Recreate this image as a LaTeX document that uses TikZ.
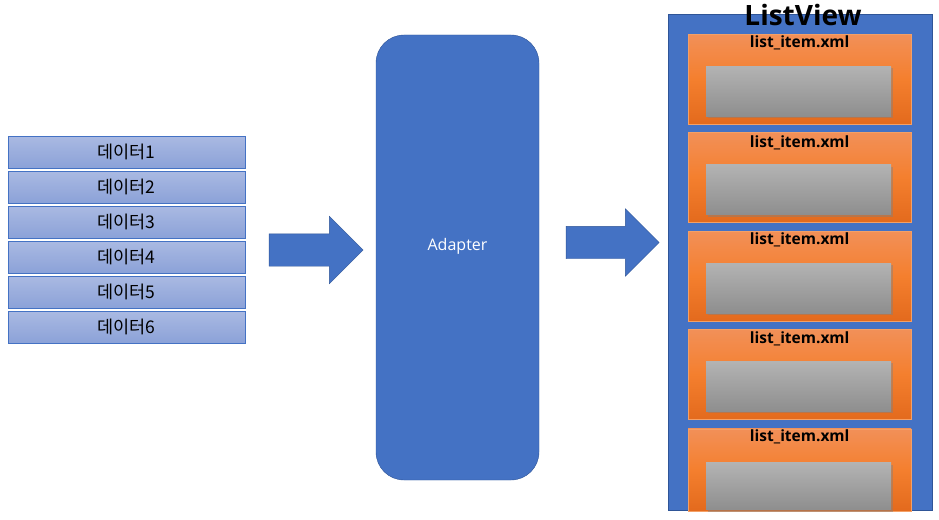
\documentclass[tikz,border=0pt]{standalone}
\usepackage{fontspec}
\setmainfont{Open Sans}
\newfontfamily\krfont{Noto Sans CJK KR}
\usetikzlibrary{calc,shapes,shapes.arrows,shadows}
\definecolor{mblue}{HTML}{4472C4}
\definecolor{dblue}{HTML}{2F5597}
\definecolor{dtop}{HTML}{AAB9E2}
\definecolor{dbot}{HTML}{8BA2D8}
\definecolor{otop}{HTML}{F29058}
\definecolor{omid}{HTML}{F47F2E}
\definecolor{obot}{HTML}{E36A1D}
\definecolor{oline}{HTML}{F4A066}
\definecolor{gtop}{HTML}{B3B3B3}
\definecolor{gbot}{HTML}{8E8E8E}

\begin{document}
\begin{tikzpicture}[x=1pt,y=-1pt,
data/.style={rectangle,draw=mblue,top color=dtop,bottom color=dbot,minimum width=237pt,minimum height=31.6pt,inner sep=0pt,font=\krfont\fontsize{17.5}{20}\selectfont},
barrow/.style={single arrow,draw=dblue,fill=mblue,line width=0.4pt,inner xsep=0pt,inner ysep=16pt,minimum width=67pt,single arrow head extend=17.5pt,single arrow tip angle=90},
item/.style={rectangle,draw=oline,top color=otop,bottom color=obot,middle color=omid,minimum width=223pt,minimum height=90pt,inner sep=0pt},
ilab/.style={font=\bfseries\fontsize{15.5}{17}\selectfont,inner sep=1pt},
gbox/.style={rectangle,top color=gtop,bottom color=gbot,minimum width=185pt,minimum height=50pt,inner sep=0pt,drop shadow={shadow xshift=1.5pt,shadow yshift=-2pt,opacity=0.45}}]
	\useasboundingbox (0,0) rectangle (939,519);
	%data
	\node[data,anchor=north west] at (8,136) (d1) {데이터1};
	\node[data,below] at ([yshift=-3pt]d1.south) (d2) {데이터2};
	\node[data,below] at ([yshift=-3pt]d2.south) (d3) {데이터3};
	\node[data,below] at ([yshift=-3pt]d3.south) (d4) {데이터4};
	\node[data,below] at ([yshift=-3pt]d4.south) (d5) {데이터5};
	\node[data,below] at ([yshift=-3pt]d5.south) (d6) {데이터6};
	%arrows
	\node[barrow,minimum height=94pt] at (308,250) (a1) {};
	\node[barrow,minimum height=93pt] at (604.5,242.5) (a2) {};
	%adapter
	\node[rectangle,rounded corners=28pt,draw=dblue,fill=mblue,minimum width=163pt,minimum height=445pt] at (457.5,257.5) (ad) {};
	\node[text=white,font=\fontsize{16}{18}\selectfont] at ([yshift=11pt]ad.center) (adtxt) {Adapter};
	%listview
	\node[rectangle,draw=dblue,fill=mblue,minimum width=264pt,minimum height=496pt,inner sep=0pt,anchor=north west] at (668,14) (lv) {};
	\node[font=\bfseries\fontsize{28}{30}\selectfont,inner sep=0pt] at (803,15) (lvtxt) {ListView};
	%items
	\node[item,anchor=north west] at (688,34) (it1) {};
	\node[item,below] at ([yshift=-8pt]it1.south) (it2) {};
	\node[item,below] at ([yshift=-8pt]it2.south) (it3) {};
	\node[item,below] at ([yshift=-8pt]it3.south) (it4) {};
	\node[item,below,minimum height=82pt] at ([yshift=-9pt]it4.south) (it5) {};
	\node[ilab,below] at ([yshift=-1pt]it1.north) (l1) {list\_item.xml};
	\node[ilab,below] at ([yshift=-2pt]it2.north) (l2) {list\_item.xml};
	\node[ilab,below] at ([yshift=-1pt]it3.north) (l3) {list\_item.xml};
	\node[ilab,below] at ([yshift=-1pt]it4.north) (l4) {list\_item.xml};
	\node[ilab,below] at (it5.north) (l5) {list\_item.xml};
	\node[gbox,below] at ([xshift=-1pt,yshift=-32pt]it1.north) (g1) {};
	\node[gbox,below] at ([xshift=-1pt,yshift=-32pt]it2.north) (g2) {};
	\node[gbox,below] at ([xshift=-1pt,yshift=-32pt]it3.north) (g3) {};
	\node[gbox,below] at ([xshift=-1pt,yshift=-32pt]it4.north) (g4) {};
	\node[gbox,below,minimum height=47pt] at ([xshift=-1pt,yshift=-34pt]it5.north) (g5) {};
\end{tikzpicture}
\end{document}
